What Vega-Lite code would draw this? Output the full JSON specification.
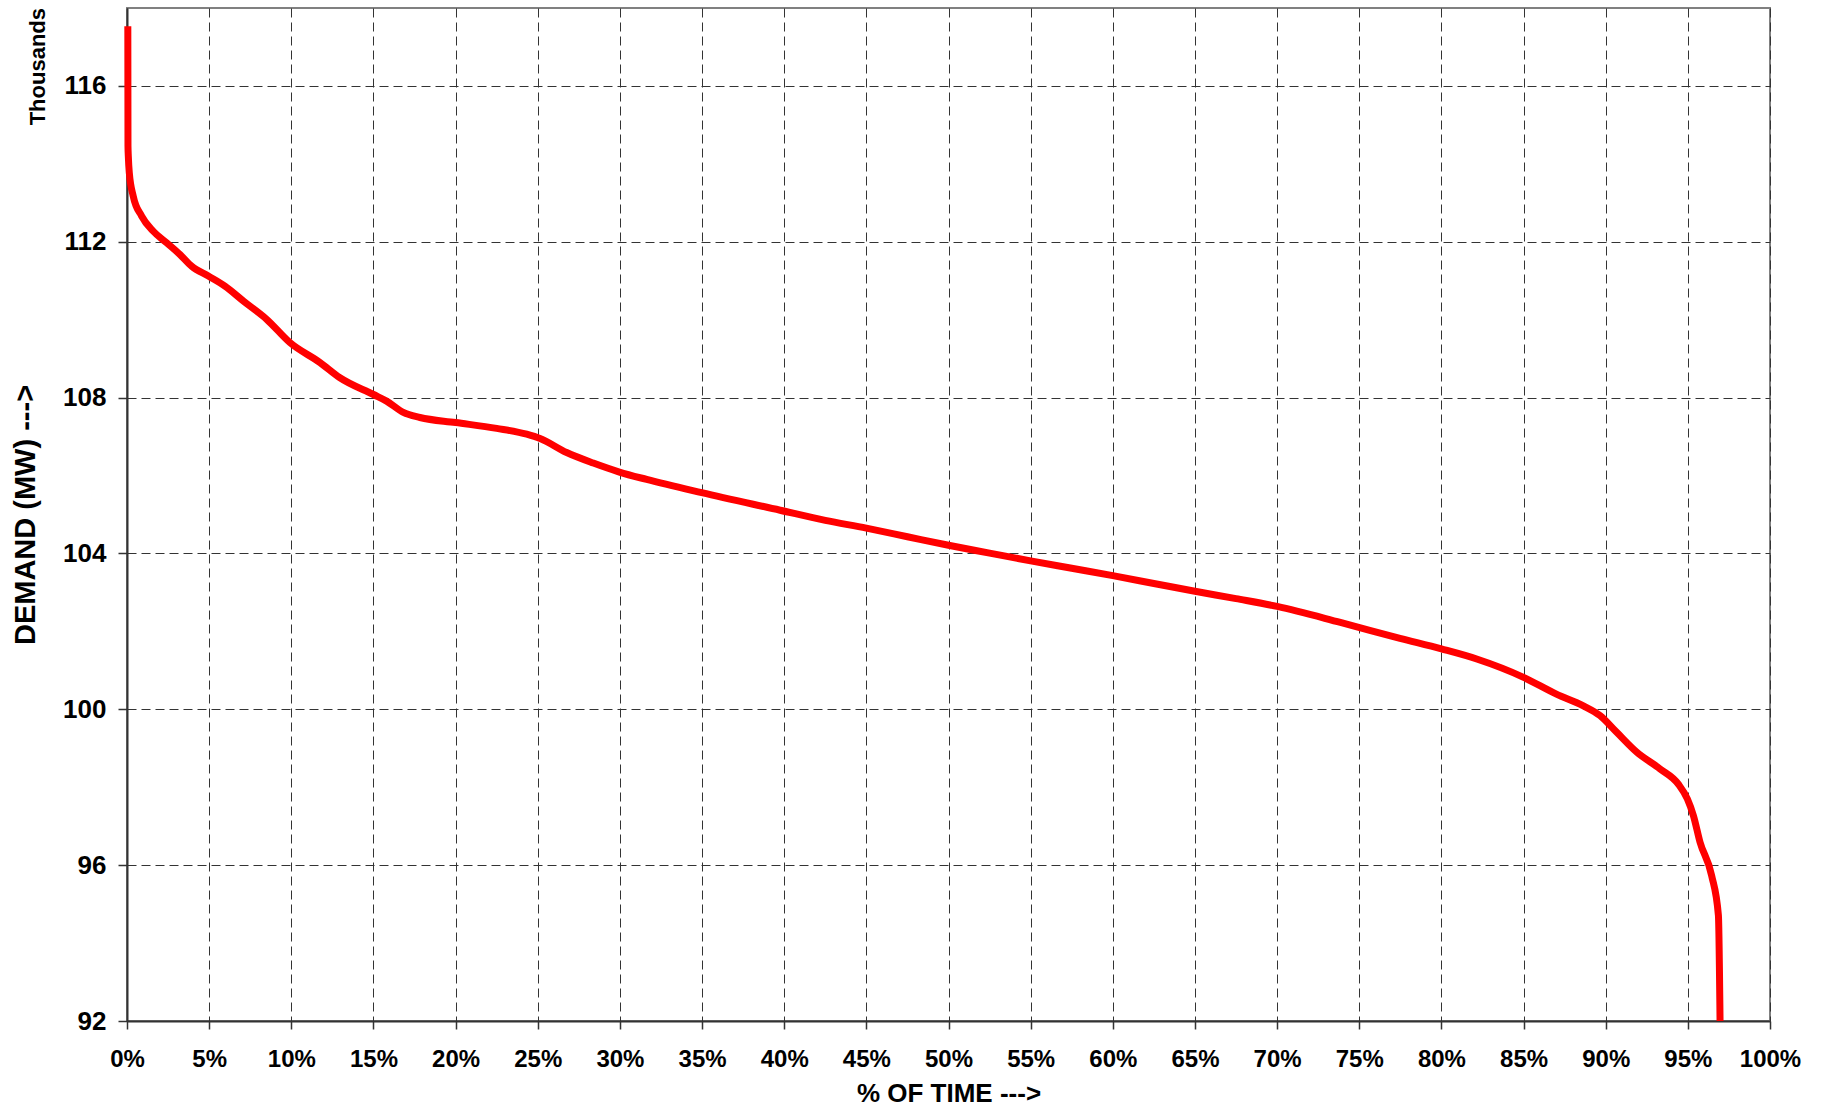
{
  "$schema": "https://vega.github.io/schema/vega-lite/v6.json",
  "width": 1643,
  "height": 1013,
  "autosize": {"type": "none"},
  "padding": {"left": 127, "top": 8, "right": 52, "bottom": 86},
  "background": "white",
  "title": {
    "text": "Thousands",
    "orient": "left",
    "anchor": "end",
    "frame": "group",
    "offset": -38,
    "font": "Liberation Sans",
    "fontSize": 22,
    "fontWeight": "bold",
    "color": "black"
  },
  "data": {
    "values": [
      {"time": 0.0005, "demand": 117.53},
      {"time": 0.0006, "demand": 114.45},
      {"time": 0.0008, "demand": 114.2},
      {"time": 0.0014, "demand": 113.77},
      {"time": 0.0038, "demand": 113.17},
      {"time": 0.0089, "demand": 112.66},
      {"time": 0.016, "demand": 112.27},
      {"time": 0.0242, "demand": 111.97},
      {"time": 0.0323, "demand": 111.67},
      {"time": 0.0394, "demand": 111.37},
      {"time": 0.0495, "demand": 111.12},
      {"time": 0.0596, "demand": 110.86},
      {"time": 0.0708, "demand": 110.48},
      {"time": 0.085, "demand": 110.01},
      {"time": 0.0992, "demand": 109.41},
      {"time": 0.1175, "demand": 108.9},
      {"time": 0.1296, "demand": 108.51},
      {"time": 0.15, "demand": 108.08},
      {"time": 0.158, "demand": 107.91},
      {"time": 0.1682, "demand": 107.62},
      {"time": 0.1783, "demand": 107.49},
      {"time": 0.2, "demand": 107.36},
      {"time": 0.225, "demand": 107.21},
      {"time": 0.2433, "demand": 107.06},
      {"time": 0.2514, "demand": 106.95},
      {"time": 0.2676, "demand": 106.59},
      {"time": 0.2838, "demand": 106.32},
      {"time": 0.2997, "demand": 106.09},
      {"time": 0.3163, "demand": 105.9},
      {"time": 0.3498, "demand": 105.56},
      {"time": 0.3975, "demand": 105.11},
      {"time": 0.425, "demand": 104.85},
      {"time": 0.45, "demand": 104.65},
      {"time": 0.475, "demand": 104.43},
      {"time": 0.5, "demand": 104.21},
      {"time": 0.525, "demand": 104.01},
      {"time": 0.55, "demand": 103.81},
      {"time": 0.575, "demand": 103.62},
      {"time": 0.6, "demand": 103.43},
      {"time": 0.625, "demand": 103.23},
      {"time": 0.65, "demand": 103.03},
      {"time": 0.675, "demand": 102.84},
      {"time": 0.7, "demand": 102.64},
      {"time": 0.7385, "demand": 102.23},
      {"time": 0.7748, "demand": 101.82},
      {"time": 0.8, "demand": 101.55},
      {"time": 0.8215, "demand": 101.29},
      {"time": 0.85, "demand": 100.82},
      {"time": 0.87, "demand": 100.39},
      {"time": 0.8864, "demand": 100.09},
      {"time": 0.8965, "demand": 99.84},
      {"time": 0.9067, "demand": 99.41},
      {"time": 0.9189, "demand": 98.9},
      {"time": 0.9331, "demand": 98.47},
      {"time": 0.9442, "demand": 98.08},
      {"time": 0.9497, "demand": 97.7},
      {"time": 0.9534, "demand": 97.27},
      {"time": 0.9574, "demand": 96.59},
      {"time": 0.9645, "demand": 95.73},
      {"time": 0.9686, "demand": 94.71},
      {"time": 0.9696, "demand": 92.0}
    ]
  },
  "mark": {"type": "line", "color": "#ff0000", "strokeWidth": 7, "interpolate": "monotone"},
  "encoding": {
    "x": {
      "field": "time",
      "type": "quantitative",
      "scale": {"domain": [0, 1], "nice": false},
      "axis": {
        "title": "% OF TIME --->",
        "titleFontSize": 26,
        "format": ".0%",
        "values": [0, 0.05, 0.1, 0.15, 0.2, 0.25, 0.3, 0.35, 0.4, 0.45, 0.5, 0.55, 0.6, 0.65, 0.7, 0.75, 0.8, 0.85, 0.9, 0.95, 1],
        "tickSize": 8,
        "labelPadding": 18,
        "titlePadding": 9
      }
    },
    "y": {
      "field": "demand",
      "type": "quantitative",
      "scale": {"domain": [92, 118], "nice": false, "zero": false},
      "axis": {
        "title": "DEMAND (MW) --->",
        "titleFontSize": 29,
        "labelFontSize": 26,
        "values": [92, 96, 100, 104, 108, 112, 116],
        "tickSize": 9,
        "labelPadding": 12,
        "titlePadding": 22
      }
    }
  },
  "config": {
    "view": {"stroke": "#808080", "strokeWidth": 2},
    "axis": {
      "labelFont": "Liberation Sans",
      "labelFontWeight": "bold",
      "labelFontSize": 24,
      "labelColor": "black",
      "labelFlush": false,
      "labelOverlap": false,
      "titleFont": "Liberation Sans",
      "titleFontWeight": "bold",
      "titleColor": "black",
      "grid": true,
      "gridColor": "#333333",
      "gridDash": [9, 5],
      "gridWidth": 1,
      "gridOpacity": 1,
      "domainColor": "#333333",
      "domainWidth": 2,
      "tickColor": "#333333",
      "tickWidth": 1.5
    }
  }
}
